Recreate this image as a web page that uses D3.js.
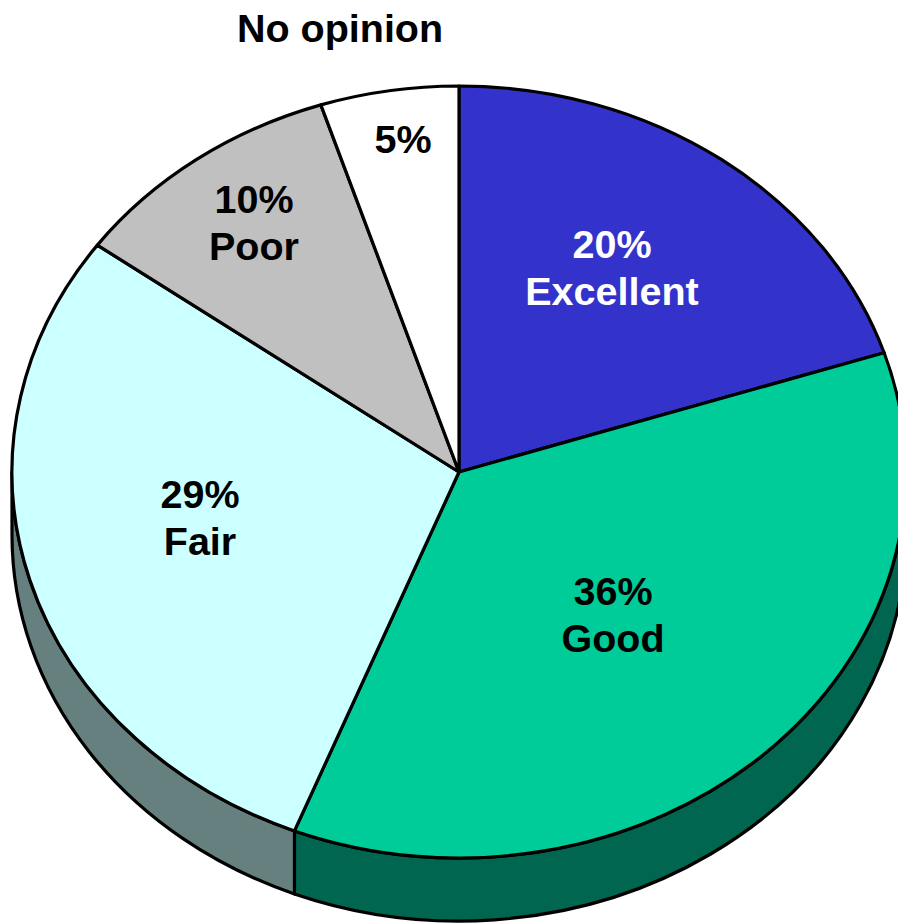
<!DOCTYPE html>
<html><head><meta charset="utf-8">
<script src="https://cdn.jsdelivr.net/npm/d3@7/dist/d3.min.js"></script>
<style>html,body{margin:0;padding:0;background:#fff;overflow:hidden}</style>
</head><body>
<svg id="c" width="898" height="923"></svg>
<script>
const categories = ["Excellent", "Good", "Fair", "Poor", "No opinion"];
const values = [20, 36, 29, 10, 5];
const labels = ["20%", "36%", "29%", "10%", "5%"];
const topColors = ["#3333CC", "#00CC99", "#CCFFFF", "#C0C0C0", "#FFFFFF"];
const sideColors = ["#1A1A66", "#006650", "#668080", "#606060", "#808080"];
const textColors = ["#FFFFFF", "#000000", "#000000", "#000000", "#000000"];

const W = 898, H = 923;
const cx = 459, cy = 472, rx = 447, ry = 386, depth = 63;
const svg = d3.select("#c");
const font = "'Liberation Sans', Arial, Helvetica, sans-serif";

const pie = d3.pie().sort(null).startAngle(0).endAngle(2 * Math.PI);
const arcs = pie(values);

const px = a => cx + rx * Math.sin(a);
const py = (a, dy = 0) => cy - ry * Math.cos(a) + dy;

function topPath(d) {
  const large = (d.endAngle - d.startAngle) > Math.PI ? 1 : 0;
  return `M${cx},${cy}L${px(d.startAngle)},${py(d.startAngle)}A${rx},${ry} 0 ${large} 1 ${px(d.endAngle)},${py(d.endAngle)}Z`;
}
function sidePath(d) {
  const a0 = Math.max(d.startAngle, Math.PI / 2);
  const a1 = Math.min(d.endAngle, 3 * Math.PI / 2);
  if (a1 <= a0) return null;
  return `M${px(a0)},${py(a0)}A${rx},${ry} 0 0 1 ${px(a1)},${py(a1)}` +
    `L${px(a1)},${py(a1, depth)}A${rx},${ry} 0 0 0 ${px(a0)},${py(a0, depth)}Z`;
}

const g = svg.append("g");
g.selectAll("path.side").data(arcs.filter(d => sidePath(d))).join("path")
  .attr("class", "side")
  .attr("d", sidePath)
  .attr("fill", d => sideColors[d.index])
  .attr("stroke", "#000").attr("stroke-width", 3.2).attr("stroke-linejoin", "round");

g.selectAll("path.top").data(arcs).join("path")
  .attr("class", "top")
  .attr("d", topPath)
  .attr("fill", d => topColors[d.index])
  .attr("stroke", "#000").attr("stroke-width", 3.2).attr("stroke-linejoin", "round");

// label layout (center x, baseline of first line)
const labelPos = {
  "Excellent": [612, 258],
  "Good": [613, 605],
  "Fair": [200, 508],
  "Poor": [254, 213],
  "No opinion": [403, 153]
};
const fs = 39.5;
arcs.forEach(d => {
  const name = categories[d.index];
  const [x, y] = labelPos[name];
  const t = svg.append("text")
    .attr("x", x).attr("y", y)
    .attr("text-anchor", "middle")
    .attr("font-family", font).attr("font-weight", "bold").attr("font-size", fs)
    .attr("fill", textColors[d.index]);
  t.append("tspan").attr("x", x).attr("y", y).text(labels[d.index]);
  if (name !== "No opinion") {
    t.append("tspan").attr("x", x).attr("y", y + 47).text(name);
  }
});
svg.append("text")
  .attr("x", 340).attr("y", 42)
  .attr("text-anchor", "middle")
  .attr("font-family", font).attr("font-weight", "bold").attr("font-size", fs)
  .attr("fill", "#000")
  .text(categories[4]);
</script>
</body></html>
